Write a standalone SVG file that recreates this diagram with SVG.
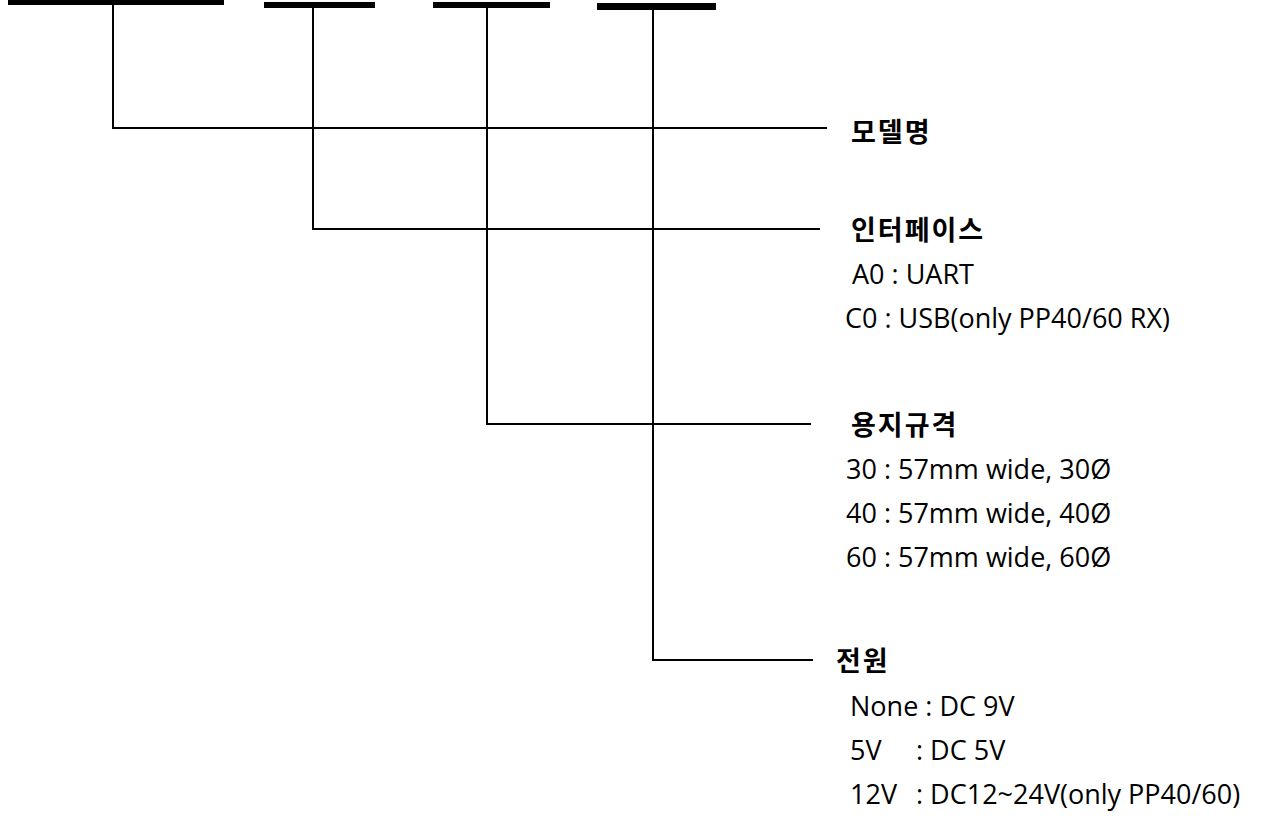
<svg xmlns="http://www.w3.org/2000/svg" width="1263" height="822" viewBox="0 0 1263 822">
  <style>
    .bar { fill: #000; }
    .ln { stroke: #000; stroke-width: 2; fill: none; }
    .ttl { font-family: "Noto Sans CJK KR", "Open Sans", sans-serif; font-weight: bold; font-size: 27px; letter-spacing: 2px; fill: #000; }
    .itm { font-family: "Open Sans", "Noto Sans CJK KR", sans-serif; font-size: 27px; fill: #000; }
  </style>
  <rect width="1263" height="822" fill="#fff"/>
  <g id="bars">
    <rect class="bar" x="8" y="0" width="216" height="5"/>
    <rect class="bar" x="264" y="2" width="111" height="6"/>
    <rect class="bar" x="433" y="2" width="117" height="6"/>
    <rect class="bar" x="597" y="3" width="119" height="7"/>
  </g>
  <g id="connectors">
    <polyline class="ln" points="113,5 113,128 827,128"/>
    <polyline class="ln" points="313,8 313,229 820,229"/>
    <polyline class="ln" points="487,8 487,424 811,424"/>
    <polyline class="ln" points="653,10 653,660 813,660"/>
  </g>
  <g id="model">
    <text class="ttl" x="851" y="142">모델명</text>
  </g>
  <g id="interface">
    <text class="ttl" x="851" y="240">인터페이스</text>
    <text class="itm" x="852" y="284">A0 : UART</text>
    <text class="itm" x="845" y="328">C0 : USB(only PP40/60 RX)</text>
  </g>
  <g id="paper">
    <text class="ttl" x="851" y="435">용지규격</text>
    <text class="itm" x="846" y="479">30 : 57mm wide, 30Ø</text>
    <text class="itm" x="846" y="523">40 : 57mm wide, 40Ø</text>
    <text class="itm" x="846" y="567">60 : 57mm wide, 60Ø</text>
  </g>
  <g id="power">
    <text class="ttl" x="836" y="671">전원</text>
    <text class="itm" x="850" y="716">None : DC 9V</text>
    <text class="itm" x="850" y="760">5V<tspan x="916">: DC 5V</tspan></text>
    <text class="itm" x="850" y="804">12V<tspan x="916">: DC12~24V(only PP40/60)</tspan></text>
  </g>
</svg>
